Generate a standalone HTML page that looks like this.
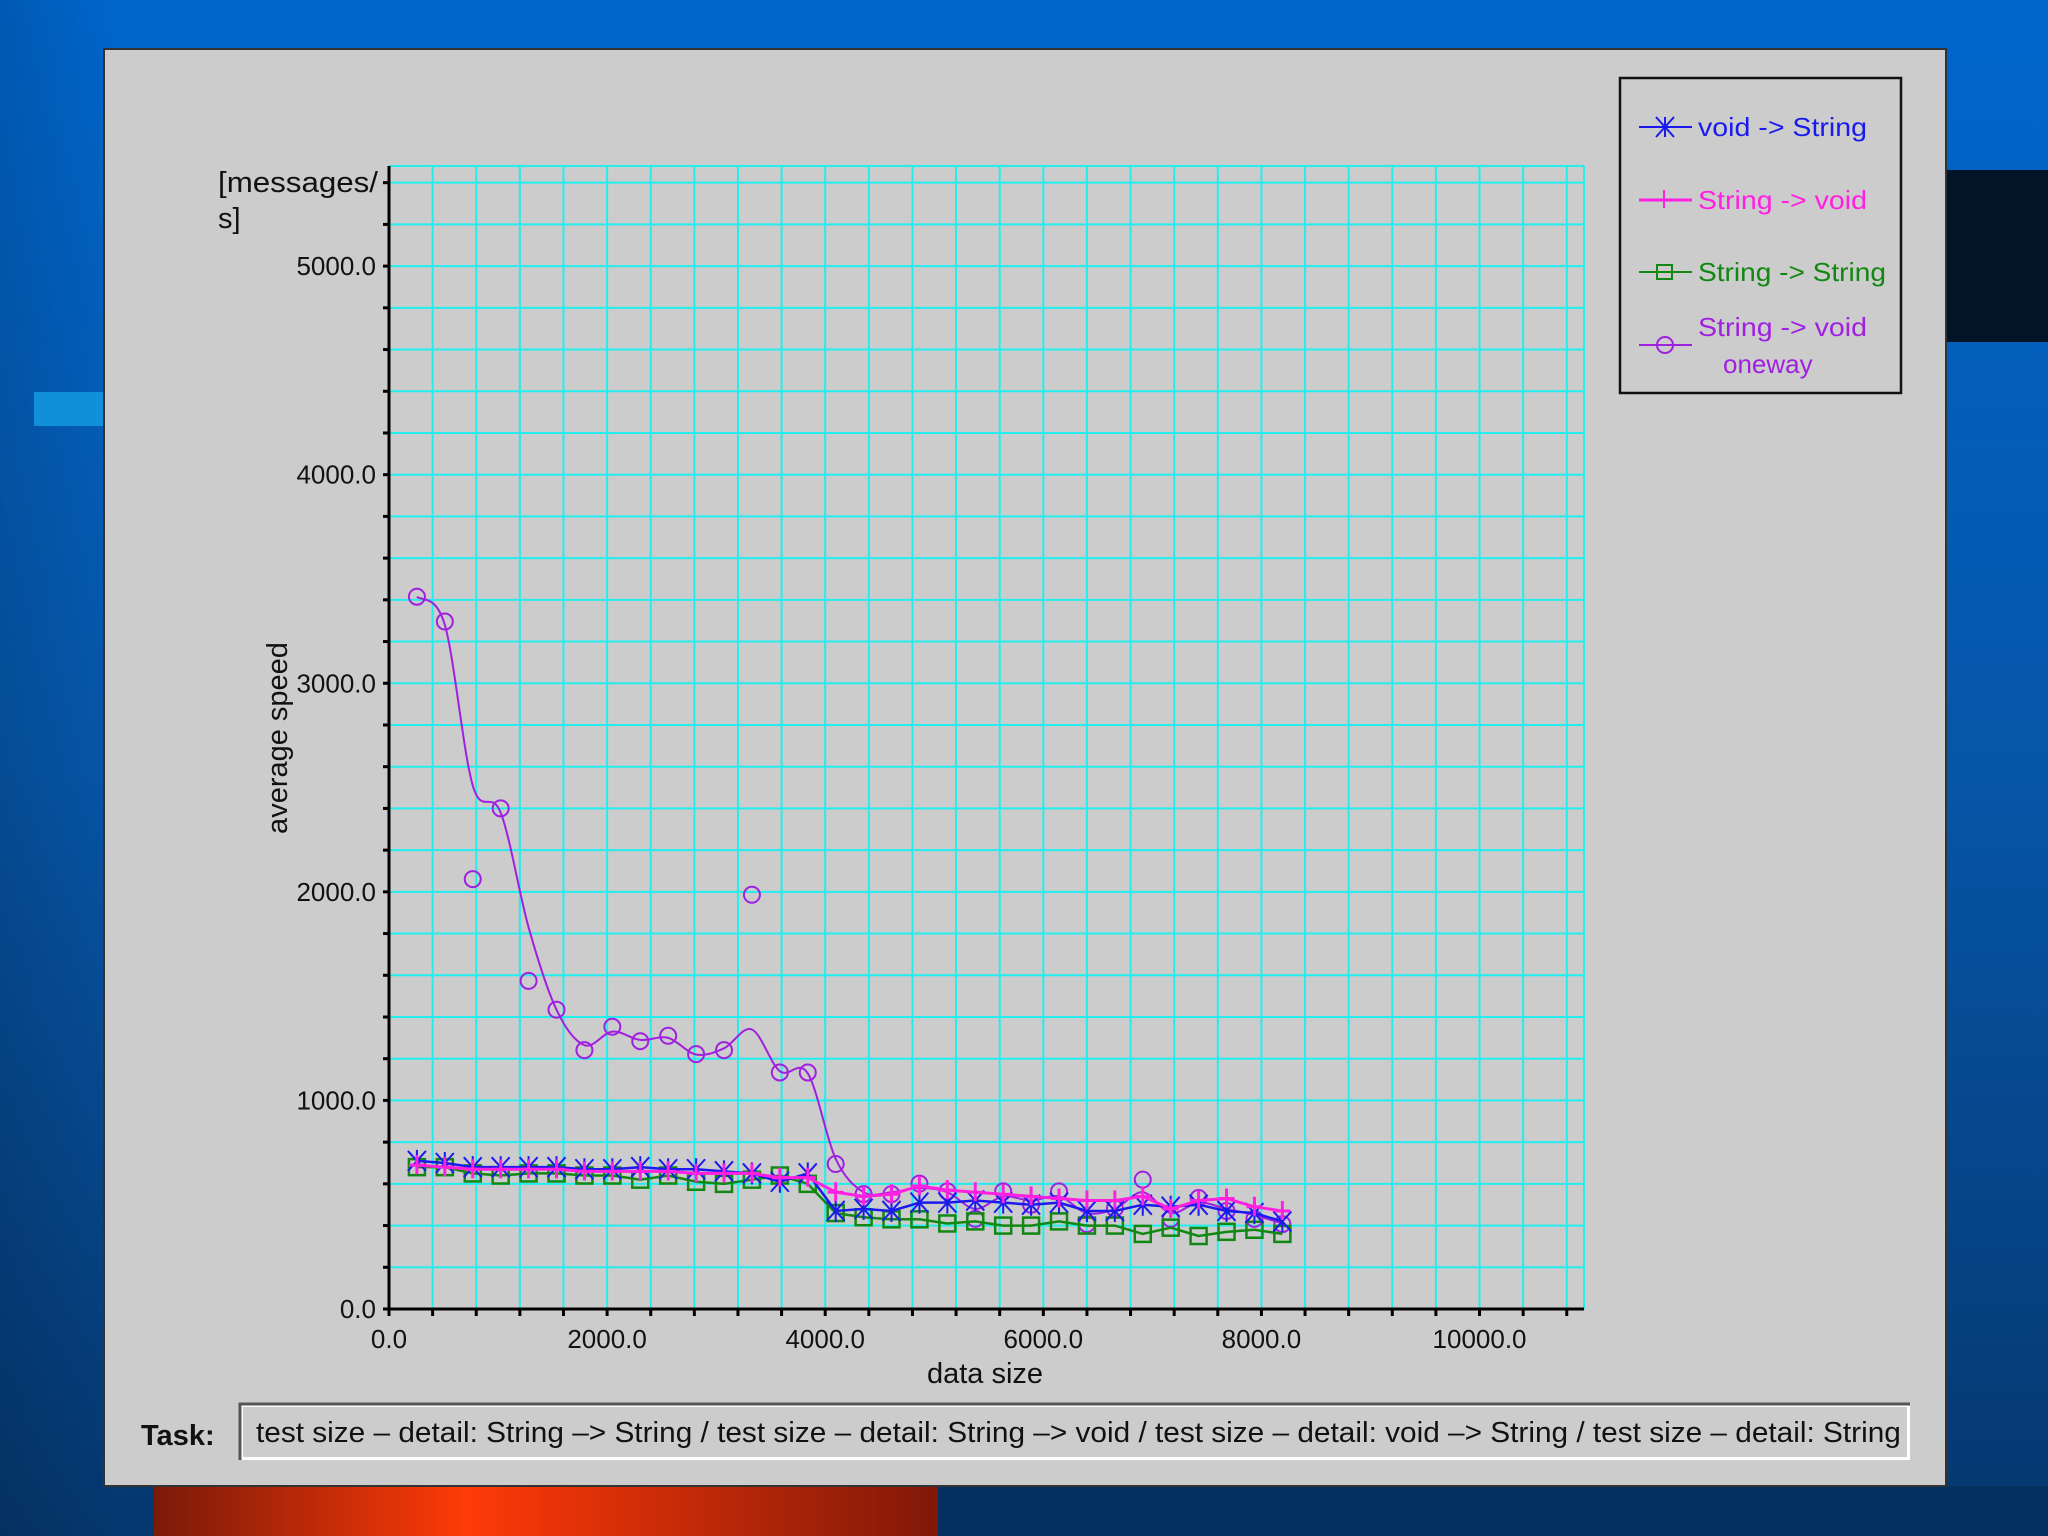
<!DOCTYPE html>
<html><head><meta charset="utf-8"><style>
html,body{margin:0;padding:0;width:2048px;height:1536px;overflow:hidden}
svg{display:block}
text{font-family:"Liberation Sans Narrow","Liberation Sans",sans-serif}
</style></head><body>
<svg id="chart" width="2048" height="1536" xmlns="http://www.w3.org/2000/svg">
<defs>
<linearGradient id="bg" x1="0" y1="0" x2="0" y2="1"><stop offset="0" stop-color="#0066cc"/><stop offset="0.5" stop-color="#0656a8"/><stop offset="1" stop-color="#05376e"/></linearGradient>
<linearGradient id="bgl" x1="0" y1="0" x2="1" y2="0"><stop offset="0" stop-color="#000" stop-opacity="0.12"/><stop offset="0.06" stop-color="#000" stop-opacity="0"/></linearGradient>
<linearGradient id="org" x1="0" y1="0" x2="1" y2="0"><stop offset="0" stop-color="#7a1a08"/><stop offset="0.4" stop-color="#ff3a08"/><stop offset="1" stop-color="#801808"/></linearGradient>
</defs>
<rect width="2048" height="1536" fill="url(#bg)"/>
<rect width="2048" height="1536" fill="url(#bgl)"/>
<rect x="1946" y="170" width="102" height="172" fill="#021428"/>
<rect x="34" y="392" width="70" height="34" fill="#1090d8"/>
<rect x="154" y="1486" width="784" height="50" fill="url(#org)"/>
<rect x="938" y="1486" width="1110" height="50" fill="#03305e"/>
<rect x="104" y="49" width="1842" height="1437" fill="#cccccc" stroke="#333" stroke-width="2"/>
<g id="grid"></g>
<g id="axes"></g>
<g id="series"></g>
<text x="218" y="192" font-size="29" fill="#111" textLength="160" lengthAdjust="spacingAndGlyphs">[messages/</text>
<text x="218" y="228" font-size="29" fill="#111">s]</text>
<text transform="translate(287,738) rotate(-90)" text-anchor="middle" font-size="29" fill="#111">average speed</text>
<text x="985" y="1383" text-anchor="middle" font-size="29" fill="#111">data size</text>
<g>
<rect x="1620" y="78" width="281" height="315" fill="#cccccc" stroke="#111" stroke-width="2.5"/>
<g><line x1="1639" y1="127" x2="1692" y2="127" stroke="#1a1aee" stroke-width="2"/><path d="M1656 117 L1674 137 M1656 137 L1674 117 M1665 117 V137" stroke="#1a1aee" stroke-width="2"/><text x="1698" y="136" font-size="26" fill="#1a1aee" textLength="169" lengthAdjust="spacingAndGlyphs">void -&gt; String</text></g>
<g><line x1="1639" y1="200" x2="1692" y2="200" stroke="#ff20e0" stroke-width="3"/><path d="M1664 190 V208" stroke="#ff20e0" stroke-width="2"/><text x="1698" y="209" font-size="26" fill="#ff20e0" textLength="169" lengthAdjust="spacingAndGlyphs">String -&gt; void</text></g>
<g><line x1="1639" y1="272" x2="1692" y2="272" stroke="#118811" stroke-width="2"/><rect x="1657" y="265" width="15" height="14" fill="none" stroke="#118811" stroke-width="2"/><text x="1698" y="281" font-size="26" fill="#118811" textLength="188" lengthAdjust="spacingAndGlyphs">String -&gt; String</text></g>
<g><line x1="1639" y1="345" x2="1692" y2="345" stroke="#a020e0" stroke-width="2"/><circle cx="1665" cy="345" r="8" fill="none" stroke="#a020e0" stroke-width="2"/><text x="1698" y="336" font-size="26" fill="#a020e0" textLength="169" lengthAdjust="spacingAndGlyphs">String -&gt; void</text><text x="1723" y="373" font-size="26" fill="#a020e0">oneway</text></g>
</g>
<text x="141" y="1445" font-size="29" font-weight="bold" fill="#111" font-family="Liberation Sans, sans-serif">Task:</text>
<g>
<rect x="240" y="1404" width="1670" height="56" fill="#fff"/>
<rect x="243" y="1407" width="1664" height="50" fill="#cccccc"/>
<path d="M240 1460 V1404 H1910" stroke="#555" stroke-width="3" fill="none"/>
<svg x="243" y="1407" width="1664" height="50"><text x="13" y="35" font-size="29" fill="#111" textLength="1750" lengthAdjust="spacingAndGlyphs">test size – detail: String –&gt; String / test size – detail: String –&gt; void / test size – detail: void –&gt; String / test size – detail: String –&gt; void</text></svg>
</g>
</svg>
<script>
const xs = [256,512,768,1024,1280,1536,1792,2048,2304,2560,2816,3072,3328,3584,3840,4096,4352,4608,4864,5120,5376,5632,5888,6144,6400,6656,6912,7168,7424,7680,7936,8192];
const voidString = [710,700,680,680,680,680,670,670,680,670,670,660,650,610,650,470,480,470,510,510,520,510,500,510,470,470,500,490,500,470,460,420];
const stringVoid = [690,680,670,670,670,670,660,660,660,660,650,650,650,630,630,560,540,550,590,570,560,550,540,530,520,520,540,480,520,530,490,470];
const stringString = [680,680,650,640,650,650,640,640,620,640,610,600,620,640,600,460,440,430,430,410,420,400,400,420,400,400,360,390,350,370,380,360];
const oneway = [3415,3296,2061,2400,1573,1435,1241,1353,1284,1310,1222,1241,1986,1134,1134,695,551,551,601,564,432,564,500,564,407,482,620,432,532,470,432,407];
const onewayTrend = [3415,3280,2510,2380,1830,1435,1265,1330,1290,1300,1220,1250,1340,1140,1130,720,560,560,580,560,480,540,520,540,460,480,560,460,510,480,450,410];
const xTicks = [0,2000,4000,6000,8000,10000];
const yTicks = [0,1000,2000,3000,4000,5000];
const X0=389,X1=1584,Y0=1309,YT=166, XMAX=10958, YMAX=5480;
const sx=v=>X0+(v/XMAX)*(X1-X0);
const sy=v=>Y0-(v/YMAX)*(Y0-YT);
const NS='http://www.w3.org/2000/svg';
function mk(tag,attrs,parent){const e=document.createElementNS(NS,tag);for(const k in attrs)e.setAttribute(k,attrs[k]);parent.appendChild(e);return e;}
const grid=document.getElementById('grid'),axes=document.getElementById('axes'),ser=document.getElementById('series');
for(let v=400;v<XMAX;v+=400){const l=mk('line',{x1:sx(v),x2:sx(v),y1:YT,y2:Y0,stroke:'#22eeee','stroke-width':2},grid);}
for(let v=200;v<YMAX;v+=200){const l=mk('line',{x1:X0,x2:X1,y1:sy(v),y2:sy(v),stroke:'#22eeee','stroke-width':2},grid);}
mk('line',{x1:X0,x2:X1,y1:YT,y2:YT,stroke:'#22eeee','stroke-width':2},grid);
mk('line',{x1:X1,x2:X1,y1:YT,y2:Y0,stroke:'#22eeee','stroke-width':2},grid);
mk('line',{x1:X0,x2:X0,y1:YT,y2:Y0+2,stroke:'#000','stroke-width':3},axes);
mk('line',{x1:X0-2,x2:X1,y1:Y0,y2:Y0,stroke:'#000','stroke-width':3},axes);
for(let v=0;v<YMAX;v+=200){mk('line',{x1:X0-6,x2:X0,y1:sy(v),y2:sy(v),stroke:'#000','stroke-width':3},axes);}
for(let v=0;v<XMAX;v+=400){mk('line',{x1:sx(v),x2:sx(v),y1:Y0,y2:Y0+7,stroke:'#000','stroke-width':3},axes);}
yTicks.forEach(v=>{const t=mk('text',{x:376,y:sy(v)+9,'text-anchor':'end','font-size':26,fill:'#111'},axes);t.textContent=v.toFixed(1);});
xTicks.forEach(v=>{const t=mk('text',{x:sx(v),y:1348,'text-anchor':'middle','font-size':26,fill:'#111'},axes);t.textContent=v.toFixed(1);});
function pts(vals){return vals.map((v,i)=>sx(xs[i])+','+sy(v)).join(' ');}
function smooth(vals){const p=vals.map((v,i)=>[sx(xs[i]),sy(v)]);let d='M'+p[0][0]+' '+p[0][1];
 for(let i=0;i<p.length-1;i++){const a=p[Math.max(0,i-1)],b=p[i],c=p[i+1],e=p[Math.min(p.length-1,i+2)];
  d+=` C${b[0]+(c[0]-a[0])/6} ${b[1]+(c[1]-a[1])/6} ${c[0]-(e[0]-b[0])/6} ${c[1]-(e[1]-b[1])/6} ${c[0]} ${c[1]}`;}
 return d;}
function series(name,vals,color,w,marker,lineVals){
 const g=mk('g',{},ser);
 
 
 if(lineVals) mk('path',{d:smooth(lineVals),fill:'none',stroke:color,'stroke-width':w},g);
 else mk('polyline',{points:pts(vals),fill:'none',stroke:color,'stroke-width':w},g);
 vals.forEach((v,i)=>{const x=sx(xs[i]),y=sy(v);let m;
  if(marker==='x')m=mk('path',{d:`M${x-9} ${y-10}L${x+9} ${y+10}M${x-9} ${y+10}L${x+9} ${y-10}M${x} ${y-11}V${y+11}`,stroke:color,'stroke-width':2,fill:'none'},g);
  else if(marker==='+')m=mk('path',{d:`M${x-8} ${y}H${x+8}M${x} ${y-10}V${y+9}`,stroke:color,'stroke-width':3,fill:'none'},g);
  else if(marker==='s')m=mk('rect',{x:x-8,y:y-8,width:16,height:16,stroke:color,'stroke-width':2.5,fill:'none'},g);
  else m=mk('circle',{cx:x,cy:y,r:8,stroke:color,'stroke-width':2,fill:'none'},g);
  
  
 });
}
series('series-oneway',oneway,'#a020e0',2,'o',onewayTrend);
series('series-string-string',stringString,'#118811',2.5,'s');
series('series-void-string',voidString,'#1a1aee',2.5,'x');
series('series-string-void',stringVoid,'#ff20e0',3,'+');
</script>
</body></html>
